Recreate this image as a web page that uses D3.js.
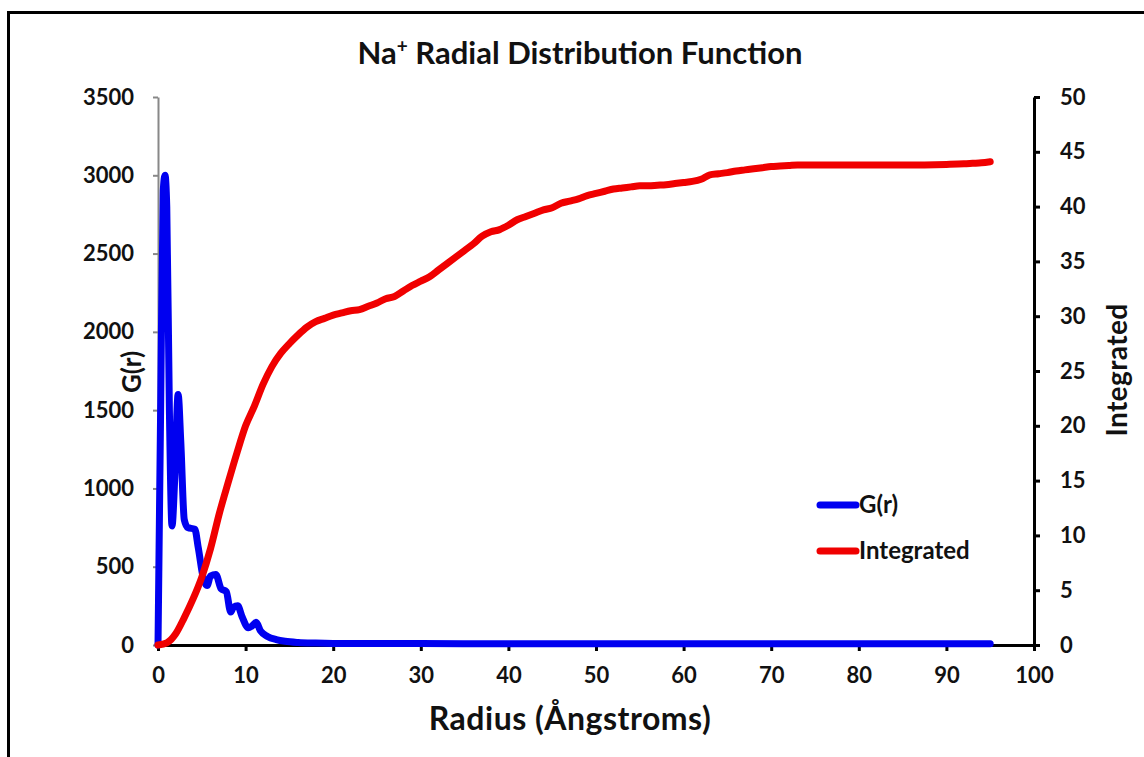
<!DOCTYPE html>
<html>
<head>
<meta charset="utf-8">
<script src="https://cdn.jsdelivr.net/npm/d3@7"></script>
<style>
  html, body { margin: 0; padding: 0; background: #fff; }
  svg { display: block; font-family: Lato, "Open Sans", sans-serif; }
</style>
</head>
<body>
<svg id="chart" width="1144" height="757"></svg>
<script>
// ---- data ----
const titleMain = "Na";
const titleSup = "+";
const titleRest = " Radial Distribution Function";
const xLabel = "Radius (Ångstroms)";
const yLeftLabel = "G(r)";
const yRightLabel = "Integrated";
const seriesNames = ["G(r)", "Integrated"];

const xTicks = [0, 10, 20, 30, 40, 50, 60, 70, 80, 90, 100];
const yLeftTicks = [0, 500, 1000, 1500, 2000, 2500, 3000, 3500];
const yRightTicks = [0, 5, 10, 15, 20, 25, 30, 35, 40, 45, 50];

// G(r) radius / value
const gR = [0, 0.3, 0.6, 0.8, 1.0, 1.3, 1.6, 1.9, 2.3, 2.6, 3.0, 3.4, 4.2, 4.6, 5.2, 5.6, 6.0, 6.6, 7.2, 7.8, 8.3, 8.6, 9.1, 9.6, 10.3, 10.7, 11.2, 11.7, 12.5, 13.5, 14.5, 16, 18, 20, 25, 30, 40, 50, 60, 70, 80, 95];
const gVal = [0, 1500, 2900, 3000, 2800, 1500, 760, 1050, 1600, 1300, 800, 750, 740, 620, 420, 380, 440, 450, 360, 340, 210, 240, 250, 180, 110, 120, 145, 90, 55, 35, 24, 16, 12, 10, 9, 9, 8, 8, 8, 8, 8, 8];

// Integrated radius / value
const iR = [0, 1, 1.5, 2, 3, 4, 5, 6, 7, 8, 9, 10, 11, 12, 13, 14, 15, 16, 17, 18, 19, 20, 21, 22, 23, 24, 25, 26, 27, 28, 29, 30, 31, 32, 33, 34, 35, 36, 37, 38, 39, 40, 41, 42, 43, 44, 45, 46, 47, 48, 49, 50, 51, 52, 53, 54, 55, 56, 57, 58, 59, 60, 61, 62, 63, 64, 65, 66, 67, 68, 69, 70, 71, 72, 73, 74, 80, 85, 90, 92, 93, 94, 95];
const iVal = [0, 0.2, 0.5, 1.0, 2.5, 4.2, 6.2, 8.8, 12.0, 14.8, 17.5, 20.0, 21.8, 23.8, 25.4, 26.6, 27.5, 28.3, 29.0, 29.5, 29.8, 30.1, 30.3, 30.5, 30.6, 30.9, 31.2, 31.6, 31.8, 32.3, 32.8, 33.2, 33.6, 34.2, 34.8, 35.4, 36.0, 36.6, 37.3, 37.7, 37.9, 38.3, 38.8, 39.1, 39.4, 39.7, 39.9, 40.3, 40.5, 40.7, 41.0, 41.2, 41.4, 41.6, 41.7, 41.8, 41.9, 41.9, 41.95, 42.0, 42.1, 42.2, 42.3, 42.5, 42.9, 43.0, 43.1, 43.25, 43.35, 43.45, 43.55, 43.65, 43.7, 43.75, 43.8, 43.8, 43.8, 43.8, 43.85, 43.9, 43.95, 44.0, 44.1];

// ---- drawing ----
const svg = d3.select("#chart");
const x = d3.scaleLinear().domain([0, 100]).range([158, 1034]);
const yL = d3.scaleLinear().domain([0, 3500]).range([645, 97]);
const yR = d3.scaleLinear().domain([0, 50]).range([645, 97]);

const blue = "#0000f0";
const red = "#f00000";
const fmt = d3.format("d");

// outer frame
svg.append("rect").attr("x", 8.5).attr("y", 12.5).attr("width", 1300).attr("height", 900)
  .attr("fill", "none").attr("stroke", "#000").attr("stroke-width", 3);

// title
const t = svg.append("text").attr("x", 580).attr("y", 64).attr("text-anchor", "middle")
  .attr("font-size", 31).attr("font-weight", "bold").attr("fill", "#111");
t.append("tspan").text(titleMain);
t.append("tspan").attr("font-size", 19).attr("dy", -11).text(titleSup);
t.append("tspan").attr("dy", 11).text(titleRest);

// axes
const axL = svg.append("g").attr("transform", "translate(158,0)")
  .call(d3.axisLeft(yL).tickValues(yLeftTicks).tickFormat(fmt).tickSize(5).tickSizeOuter(0).tickPadding(19));
axL.select(".domain").attr("stroke", "#888").attr("stroke-width", 2);
axL.selectAll(".tick line").attr("stroke", "#888").attr("stroke-width", 2);

const axR = svg.append("g").attr("transform", "translate(1034,0)")
  .call(d3.axisRight(yR).tickValues(yRightTicks).tickFormat(fmt).tickSize(6).tickSizeOuter(0).tickPadding(20));
axR.select(".domain").attr("stroke", "#000").attr("stroke-width", 3);
axR.selectAll(".tick line").attr("stroke", "#000").attr("stroke-width", 3);

const axB = svg.append("g").attr("transform", "translate(0,645)")
  .call(d3.axisBottom(x).tickValues(xTicks).tickFormat(fmt).tickSize(6).tickSizeOuter(0).tickPadding(16));
axB.select(".domain").attr("stroke", "#000").attr("stroke-width", 3);
axB.selectAll(".tick line").attr("stroke", "#000").attr("stroke-width", 3);

svg.selectAll(".tick text").attr("font-family", "Lato, sans-serif").attr("font-size", 22)
  .attr("font-weight", "bold").attr("fill", "#111");

// axis titles
svg.append("text").attr("x", 570).attr("y", 730).attr("text-anchor", "middle")
  .attr("font-size", 32).attr("letter-spacing", 0.5).attr("font-weight", "bold").attr("fill", "#111").text(xLabel);
svg.append("text").attr("transform", "translate(141,372) rotate(-90)").attr("text-anchor", "middle")
  .attr("font-size", 26).attr("font-weight", "bold").attr("fill", "#111").text(yLeftLabel);
svg.append("text").attr("transform", "translate(1127,370) rotate(-90)").attr("text-anchor", "middle")
  .attr("font-size", 28).attr("letter-spacing", 0.4).attr("font-weight", "bold").attr("fill", "#111").text(yRightLabel);

// series
const gData = gR.map((r, i) => [r, gVal[i]]);
const iData = iR.map((r, i) => [r, iVal[i]]);

svg.append("path").datum(gData)
  .attr("d", d3.line().x(d => x(d[0])).y(d => yL(d[1])).curve(d3.curveMonotoneX))
  .attr("fill", "none").attr("stroke", blue).attr("stroke-width", 7)
  .attr("stroke-linejoin", "round").attr("stroke-linecap", "round");

svg.append("path").datum(iData)
  .attr("d", d3.line().x(d => x(d[0])).y(d => yR(d[1])).curve(d3.curveMonotoneX))
  .attr("fill", "none").attr("stroke", red).attr("stroke-width", 7)
  .attr("stroke-linejoin", "round").attr("stroke-linecap", "round");

// legend
const legend = svg.append("g");
const legColors = [blue, red];
const legY = [505, 551];
seriesNames.forEach((name, i) => {
  legend.append("line").attr("x1", 820).attr("x2", 856).attr("y1", legY[i]).attr("y2", legY[i])
    .attr("stroke", legColors[i]).attr("stroke-width", 7).attr("stroke-linecap", "round");
  legend.append("text").attr("x", 859).attr("y", legY[i] + 8)
    .attr("font-size", 24).attr("font-weight", "bold").attr("fill", "#111").text(name);
});
</script>
</body>
</html>
